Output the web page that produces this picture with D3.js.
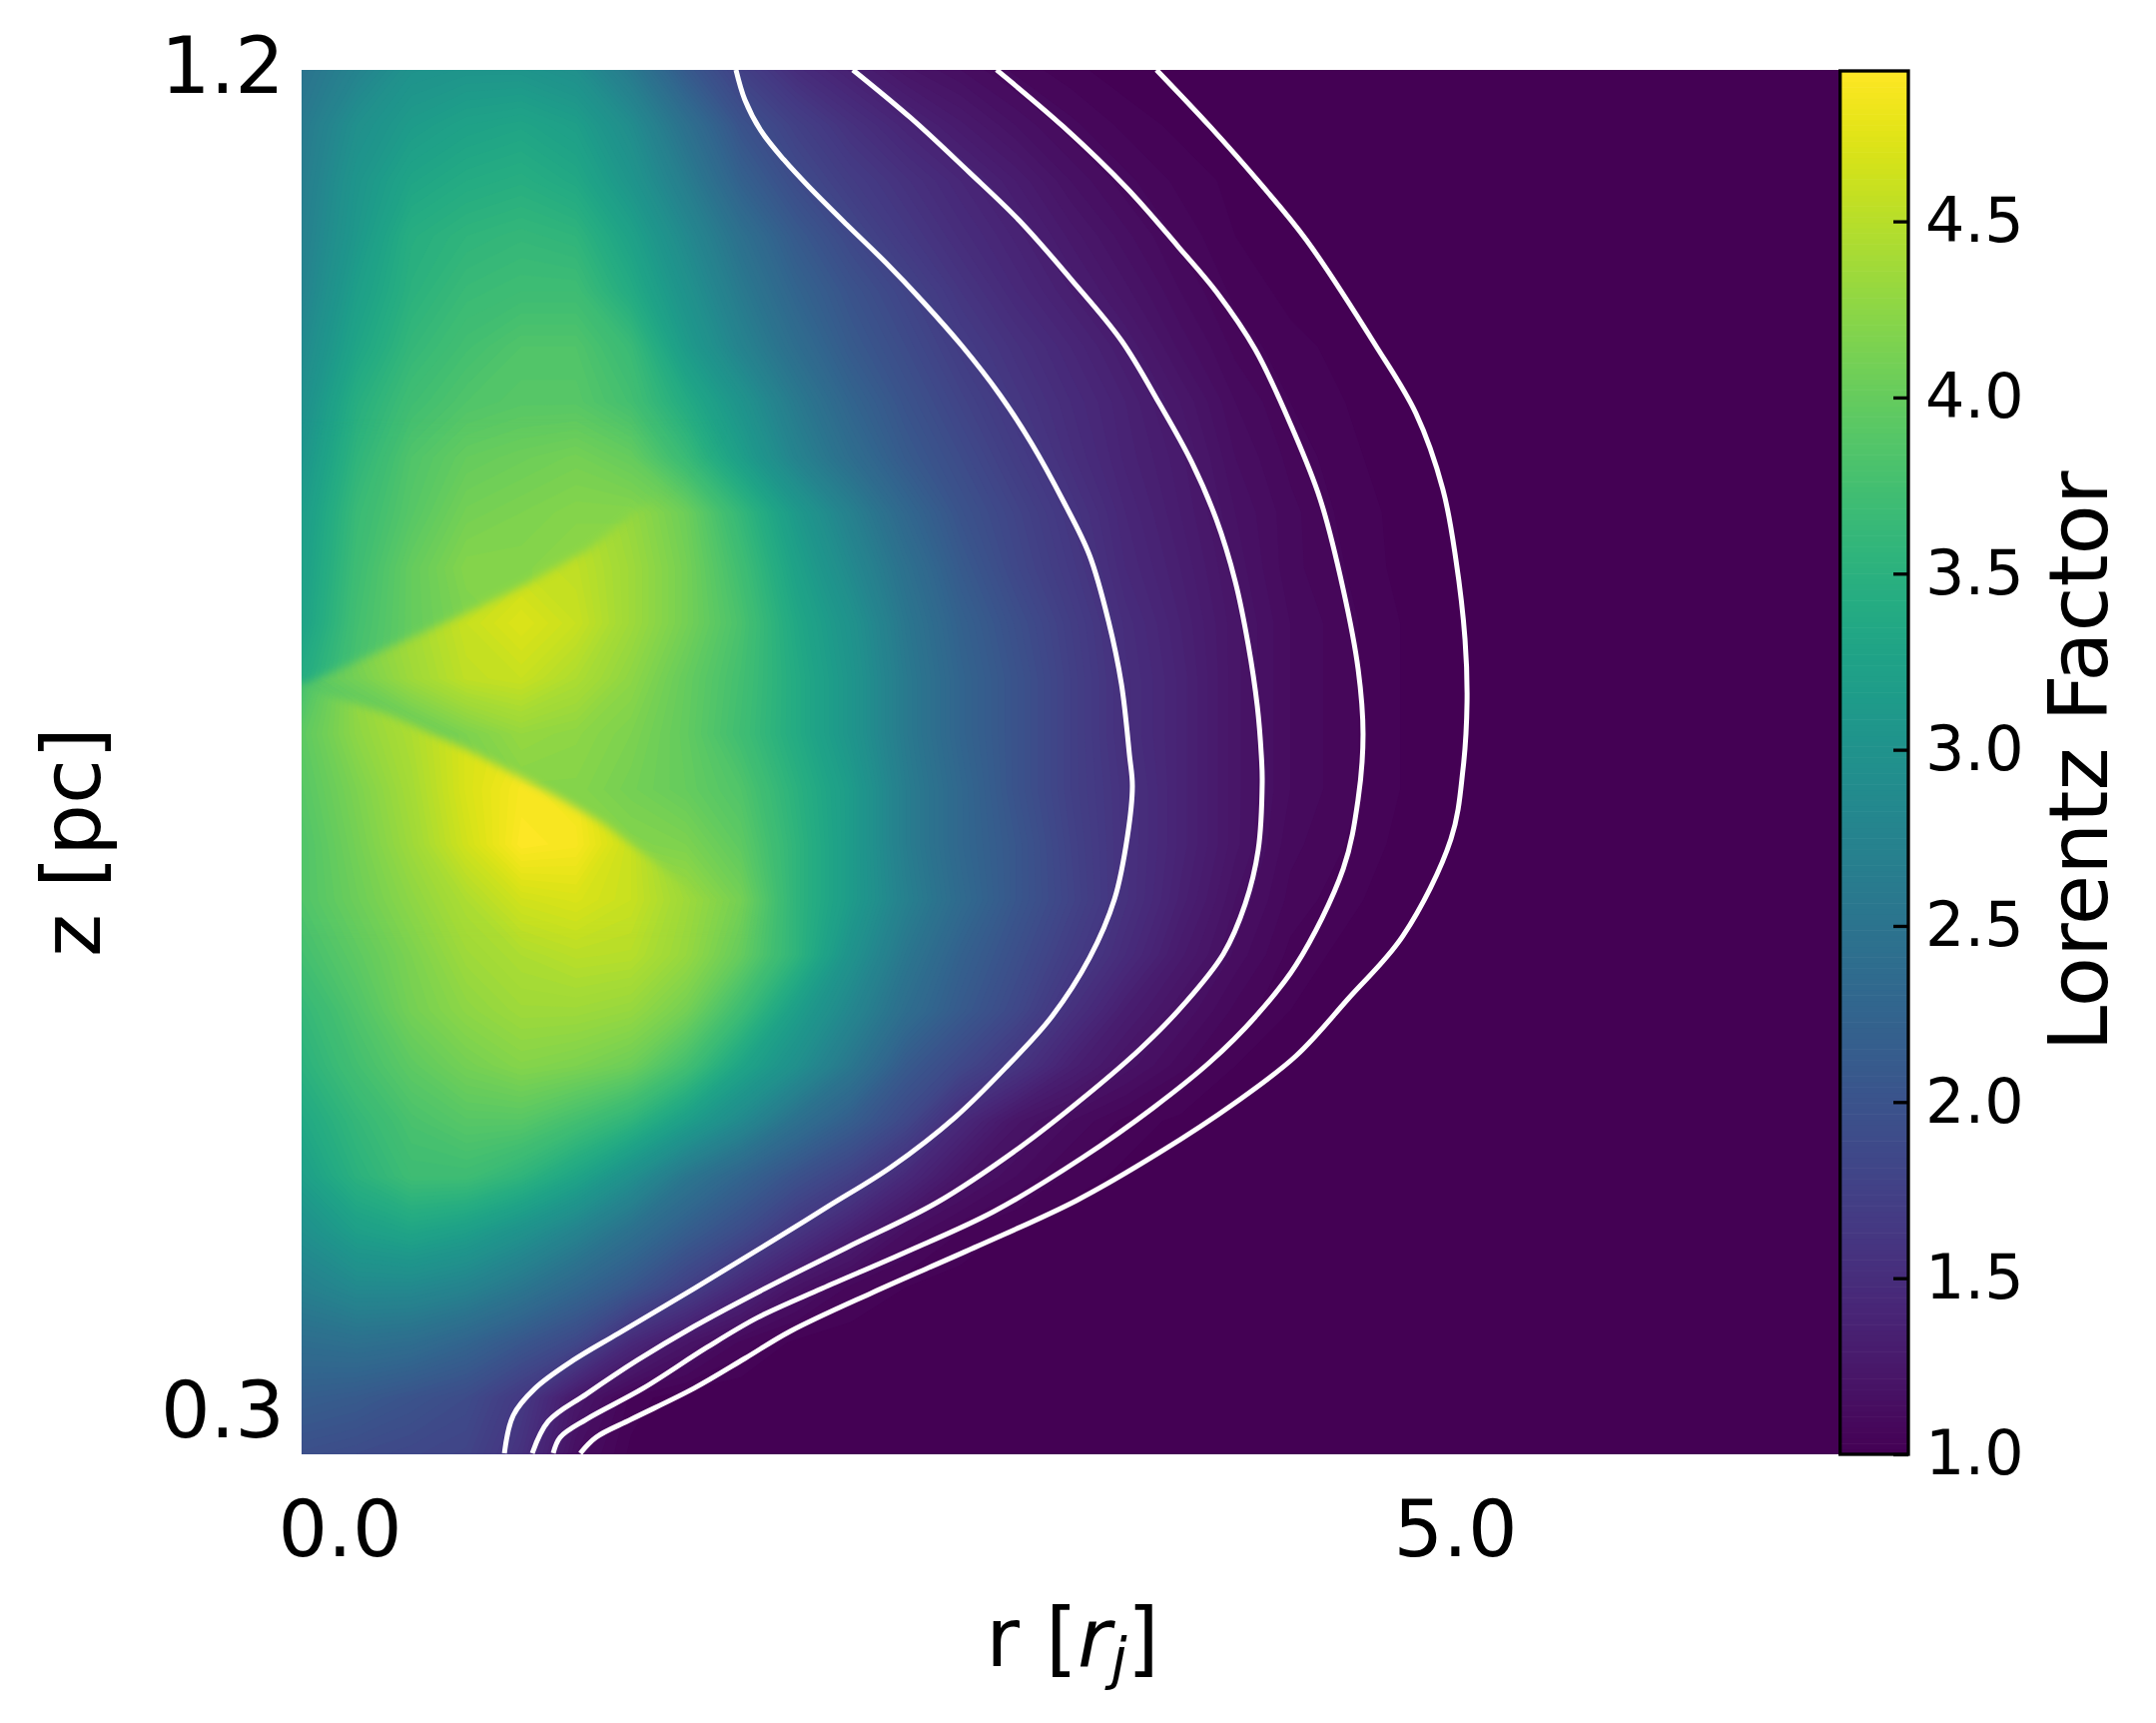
<!DOCTYPE html>
<html><head><meta charset="utf-8">
<style>html,body{margin:0;background:#fff}svg{display:block}text{font-family:"DejaVu Sans",sans-serif;fill:#000}</style>
<script src="https://cdnjs.cloudflare.com/ajax/libs/d3/7.8.5/d3.min.js"></script>
</head><body><svg id="c" width="2159" height="1725"></svg>
<script>
// Lorentz factor: rows top to bottom, columns left to right
const lorentzGrid = [
[2.5,2.75,3.0,3.05,3.05,2.95,2.6,2.1,1.75,1.5,1.35,1.22,1.15,1.08,1.04,1.01,1,1,1,1,1,1,1,1,1,1,1,1,1],
[2.6,2.95,3.15,3.25,3.3,3.2,2.9,2.45,2.0,1.75,1.55,1.4,1.28,1.18,1.1,1.05,1.02,1.01,1,1,1,1,1,1,1,1,1,1,1],
[2.65,3.05,3.3,3.4,3.45,3.35,3.05,2.65,2.2,1.9,1.7,1.55,1.42,1.3,1.18,1.1,1.05,1.02,1,1,1,1,1,1,1,1,1,1,1],
[2.7,3.1,3.45,3.55,3.6,3.55,3.25,2.85,2.45,2.1,1.85,1.65,1.5,1.38,1.26,1.16,1.08,1.03,1.01,1,1,1,1,1,1,1,1,1,1],
[2.75,3.2,3.5,3.65,3.7,3.7,3.4,3.0,2.6,2.25,2.0,1.8,1.6,1.45,1.33,1.22,1.12,1.05,1.02,1.01,1,1,1,1,1,1,1,1,1],
[2.85,3.3,3.6,3.75,3.85,3.85,3.65,3.15,2.75,2.4,2.1,1.9,1.7,1.55,1.42,1.3,1.17,1.08,1.04,1.02,1,1,1,1,1,1,1,1,1],
[2.95,3.45,3.72,3.85,3.9,3.9,3.75,3.4,3.02,2.6,2.25,2.0,1.8,1.62,1.48,1.36,1.24,1.12,1.06,1.03,1.01,1,1,1,1,1,1,1,1],
[3.05,3.55,3.85,4.0,4.05,4.1,4.0,3.65,3.2,2.75,2.4,2.1,1.9,1.7,1.52,1.38,1.28,1.15,1.08,1.04,1.01,1,1,1,1,1,1,1,1],
[3.9,4.2,4.35,4.45,4.55,4.5,4.3,4.05,3.6,3.12,2.7,2.3,2.0,1.8,1.6,1.42,1.3,1.18,1.1,1.05,1.02,1,1,1,1,1,1,1,1],
[3.6,4.0,4.2,4.4,4.6,4.55,4.35,4.1,3.72,3.25,2.85,2.45,2.1,1.85,1.65,1.45,1.33,1.2,1.1,1.06,1.02,1,1,1,1,1,1,1,1],
[3.8,4.2,4.4,4.6,4.72,4.6,4.35,4.1,3.8,3.35,3.0,2.55,2.2,1.95,1.72,1.5,1.36,1.22,1.12,1.07,1.03,1.01,1,1,1,1,1,1,1],
[3.9,4.1,4.35,4.55,4.6,4.45,4.25,4.0,3.75,3.4,3.05,2.6,2.25,2.0,1.75,1.52,1.38,1.22,1.12,1.07,1.03,1.01,1,1,1,1,1,1,1],
[3.8,3.8,3.95,4.15,4.3,4.25,4.15,3.98,3.72,3.4,3.05,2.6,2.25,2.0,1.75,1.52,1.38,1.22,1.12,1.07,1.03,1.01,1,1,1,1,1,1,1],
[3.9,3.95,4.0,4.1,4.2,4.2,4.1,4.0,3.85,3.5,3.15,2.65,2.3,2.0,1.75,1.55,1.38,1.22,1.12,1.07,1.03,1.01,1,1,1,1,1,1,1],
[4.0,4.0,4.05,4.1,4.15,4.2,4.2,4.15,3.95,3.55,3.15,2.65,2.3,2.05,1.78,1.55,1.38,1.22,1.1,1.06,1.02,1.01,1,1,1,1,1,1,1],
[3.85,4.05,4.25,4.45,4.65,4.7,4.6,4.35,4.1,3.55,3.15,2.7,2.35,2.05,1.8,1.55,1.35,1.18,1.08,1.04,1.01,1,1,1,1,1,1,1,1],
[3.75,3.95,4.15,4.35,4.45,4.52,4.5,4.3,4.0,3.55,3.0,2.55,2.2,1.95,1.7,1.48,1.28,1.14,1.05,1.02,1.01,1,1,1,1,1,1,1,1],
[3.6,3.85,4.1,4.25,4.35,4.35,4.3,4.1,3.7,3.2,2.8,2.4,2.1,1.85,1.55,1.32,1.18,1.08,1.03,1.01,1,1,1,1,1,1,1,1,1],
[3.5,3.75,3.95,4.1,4.2,4.15,4.05,3.75,3.3,2.95,2.55,2.1,1.85,1.6,1.35,1.2,1.1,1.03,1.01,1,1,1,1,1,1,1,1,1,1],
[3.35,3.6,3.8,3.9,3.9,3.75,3.55,3.2,2.85,2.45,2.15,1.85,1.45,1.22,1.12,1.05,1.02,1,1,1,1,1,1,1,1,1,1,1,1],
[3.2,3.5,3.7,3.7,3.55,3.3,2.95,2.55,2.25,1.98,1.75,1.45,1.22,1.12,1.05,1.02,1,1,1,1,1,1,1,1,1,1,1,1,1],
[2.95,3.2,3.3,3.2,3.0,2.75,2.45,2.15,1.9,1.6,1.35,1.15,1.06,1.02,1,1,1,1,1,1,1,1,1,1,1,1,1,1,1],
[2.7,2.85,2.85,2.75,2.55,2.3,2.05,1.75,1.45,1.2,1.08,1.03,1.01,1,1,1,1,1,1,1,1,1,1,1,1,1,1,1,1],
[2.4,2.45,2.4,2.25,2.05,1.85,1.45,1.22,1.08,1.02,1,1,1,1,1,1,1,1,1,1,1,1,1,1,1,1,1,1,1],
[2.15,2.1,2.0,1.9,1.65,1.25,1.05,1,1,1,1,1,1,1,1,1,1,1,1,1,1,1,1,1,1,1,1,1,1],
[1.95,1.9,1.85,1.8,1.55,1.15,1.02,1,1,1,1,1,1,1,1,1,1,1,1,1,1,1,1,1,1,1,1,1,1]
];
// values on the far side of the two shocks, same lattice, rows 6..12 and 11..16, columns 0..9
const aboveShockGrid = [
[2.95,3.45,3.72,3.85,3.9,3.9,3.75,3.4,3.02,2.6],
[3.05,3.55,3.85,4.0,4.05,4.1,4.0,3.65,3.2,2.75],
[3.15,3.65,3.9,4.1,4.15,4.2,4.2,4.05,3.6,3.12],
[3.2,3.7,4.0,4.2,4.2,4.25,4.25,4.1,3.72,3.25],
[3.25,3.75,4.0,4.15,4.2,4.25,4.25,4.1,3.8,3.35],
[3.4,3.8,4.0,4.1,4.2,4.2,4.2,4.0,3.75,3.4],
[3.5,3.85,4.0,4.1,4.2,4.2,4.15,3.98,3.72,3.4]
];
const belowShockGrid = [
[3.75,4.3,4.6,4.9,4.9,4.7,4.35,4.1,3.8,3.4],
[3.95,4.25,4.45,4.7,4.8,4.75,4.45,4.05,3.72,3.4],
[3.9,4.15,4.4,4.7,4.88,4.85,4.5,4.1,3.85,3.5],
[3.85,4.1,4.35,4.65,4.92,4.88,4.6,4.2,3.95,3.55],
[3.85,4.05,4.25,4.45,4.65,4.7,4.6,4.35,4.1,3.55],
[3.75,3.95,4.15,4.35,4.45,4.52,4.5,4.3,4.0,3.55]
];
// shock fronts [r, z]
const shockUpper = [[-.201,.7841],[-.031,.7955],[.358,.8209],[.671,.8423],[.819,.853],[1.119,.8777],[1.343,.9045],[1.522,.9265],[1.701,.958],[1.8,.958],[-.201,.958]];
const shockLower = [[-.201,.7881],[.224,.7674],[.595,.742],[.971,.7126],[1.186,.6938],[1.419,.6678],[1.589,.6464],[1.88,.6236],[-.201,.6236]];
// white contours [r, z]
const contour1 = [[1.777,1.1987],[1.817,1.1786],[1.889,1.1579],[1.992,1.1385],[2.104,1.1204],[2.274,1.095],[2.449,1.0696],[2.619,1.0429],[2.789,1.0141],[2.959,.9814],[3.102,.9486],[3.245,.9098],[3.362,.8737],[3.447,.8296],[3.505,.7875],[3.541,.74],[3.554,.7193],[3.532,.6858],[3.474,.6437],[3.362,.6043],[3.192,.5648],[2.99,.5314],[2.762,.4979],[2.475,.4645],[2.189,.4378],[1.907,.4117],[1.589,.3829],[1.249,.3528],[1.047,.3348],[.877,.3161],[.779,.298],[.739,.2726]];
const contour2 = [[2.301,1.1987],[2.56,1.1666],[2.82,1.1305],[3.048,1.0977],[3.277,1.0589],[3.505,1.0175],[3.675,.9753],[3.818,.9366],[3.93,.8978],[4.015,.8563],[4.073,.8142],[4.114,.7727],[4.132,.74],[4.136,.7219],[4.118,.6765],[4.06,.6404],[3.962,.6069],[3.787,.5735],[3.59,.5434],[3.33,.51],[3.048,.4772],[2.677,.4404],[2.274,.4104],[1.907,.3829],[1.589,.3575],[1.334,.3348],[1.106,.3121],[.936,.294],[.864,.2726]];
const contour3 = [[2.945,1.1987],[3.245,1.1606],[3.532,1.1191],[3.76,1.0803],[3.93,1.0502],[4.105,1.0114],[4.275,.9573],[4.396,.9112],[4.499,.851],[4.566,.7975],[4.588,.754],[4.566,.7106],[4.499,.6638],[4.288,.5996],[4.105,.5648],[3.903,.5347],[3.648,.504],[3.33,.4705],[2.932,.4344],[2.534,.407],[2.162,.3829],[1.876,.3636],[1.647,.3435],[1.361,.3161],[1.106,.2953],[.989,.2833],[.958,.2726]];
const contour4 = [[3.662,1.1987],[3.903,1.1606],[4.132,1.1218],[4.333,1.085],[4.642,1.0148],[4.825,.9687],[4.946,.9178],[5.004,.871],[5.045,.8175],[5.054,.7754],[5.036,.7306],[4.982,.6838],[4.767,.619],[4.521,.5768],[4.288,.5387],[4.015,.5073],[3.675,.4739],[3.303,.4418],[2.847,.4104],[2.39,.3803],[2.019,.3542],[1.817,.3361],[1.589,.3161],[1.307,.2953],[1.15,.2833],[1.079,.2726]];
const rTicks = [0, 5];
const zTicks = [1.2, 0.3];
const cbTicks = [1.0,1.5,2.0,2.5,3.0,3.5,4.0,4.5];
const rExtent = [-0.17, 6.724], zExtent = [1.1987, 0.2726], valueExtent = [1, 4.927];

const svg = d3.select('#c');
const x = d3.scaleLinear().domain([0,5]).range([340,1457]);
const y = d3.scaleLinear().domain([1.2,0.3]).range([68,1414]);
const L = 302, R = 1842, T = 70, B = 1456;
const color = v => d3.interpolateViridis((v - valueExtent[0]) / (valueExtent[1] - valueExtent[0]));
const defs = svg.append('defs');
defs.append('clipPath').attr('id','plot').append('rect').attr('x',L).attr('y',T).attr('width',R-L).attr('height',B-T);
defs.append('filter').attr('id','soft').attr('x','-20%').attr('y','-20%').attr('width','140%').attr('height','140%')
  .append('feGaussianBlur').attr('stdDeviation',5);

const gridR = d3.scaleLinear().domain([0,28]).range(rExtent);
const gridZ = d3.scaleLinear().domain([0,25]).range(zExtent);
const levels = d3.range(valueExtent[0], 4.95, 0.03);
function drawField(parent, grid, row0){
  const n = grid[0].length, m = grid.length;
  const gen = d3.contours().size([n,m]).thresholds(levels);
  const proj = d3.geoTransform({point(px,py){
    this.stream.point(x(gridR(px-0.5)), y(gridZ(py-0.5+row0)));
  }});
  const path = d3.geoPath(proj);
  parent.selectAll('path').data(gen(grid.flat())).join('path')
    .attr('d', path).attr('fill', d => color(d.value + 0.015));
}
const plot = svg.append('g').attr('clip-path','url(#plot)');
plot.append('rect').attr('x',L).attr('y',T).attr('width',R-L).attr('height',B-T).attr('fill',color(1));
drawField(plot.append('g'), lorentzGrid, 0);

const polyLine = d3.line().x(d=>x(d[0])).y(d=>y(d[1]));
function addMask(id, pts){
  defs.append('mask').attr('id',id).attr('maskUnits','userSpaceOnUse')
    .attr('x',0).attr('y',0).attr('width',2159).attr('height',1725)
    .append('path').attr('d',polyLine(pts)+'Z').attr('fill','#fff').attr('filter','url(#soft)');
}
addMask('mUpper', shockUpper);
addMask('mLower', shockLower);
drawField(plot.append('g').attr('mask','url(#mUpper)'), aboveShockGrid, 6);
drawField(plot.append('g').attr('mask','url(#mLower)'), belowShockGrid, 11);

const curve = d3.line().x(d=>x(d[0])).y(d=>y(d[1])).curve(d3.curveCatmullRom.alpha(0.5));
plot.selectAll('path.contour').data([contour1,contour2,contour3,contour4]).join('path')
  .attr('class','contour').attr('d',curve).attr('fill','none').attr('stroke','#fff').attr('stroke-width',5);

// colour bar
const cbL = 1842.7, cbR = 1911, cbT = 71, cbB = 1456;
const cb = d3.scaleLinear().domain(valueExtent).range([cbB,cbT]);
const steps = d3.range(256).map(i => valueExtent[0] + (valueExtent[1]-valueExtent[0])*i/256);
const stepH = (valueExtent[1]-valueExtent[0])/256;
svg.append('g').selectAll('rect').data(steps).join('rect')
  .attr('x',cbL).attr('width',cbR-cbL)
  .attr('y',d=>cb(d+stepH)).attr('height',d=>cb(d)-cb(d+stepH)+0.6)
  .attr('fill',d=>color(d+stepH/2));
svg.append('rect').attr('x',cbL).attr('y',cbT).attr('width',cbR-cbL).attr('height',cbB-cbT)
  .attr('fill','none').attr('stroke','#000').attr('stroke-width',3.3);
const cbAxis = svg.append('g').attr('transform',`translate(${cbR},0)`)
  .call(d3.axisRight(cb).tickValues(cbTicks).tickSize(-15).tickPadding(17).tickFormat(d3.format('.1f')));
cbAxis.select('.domain').remove();
cbAxis.selectAll('line').attr('stroke','#000').attr('stroke-width',3.3);
cbAxis.selectAll('text').attr('font-size',62).attr('font-family','"DejaVu Sans"').attr('fill','#000');

// axes: labels only
const xAxis = svg.append('g').attr('transform',`translate(0,${B})`)
  .call(d3.axisBottom(x).tickValues(rTicks).tickSize(0).tickPadding(47).tickFormat(d3.format('.1f')));
const yAxis = svg.append('g').attr('transform',`translate(${L},0)`)
  .call(d3.axisLeft(y).tickValues(zTicks).tickSize(0).tickPadding(17).tickFormat(d3.format('.1f')));
[xAxis,yAxis].forEach(a=>{a.select('.domain').remove();
  a.selectAll('text').attr('font-size',78).attr('font-family','"DejaVu Sans"').attr('fill','#000');});

const xl = svg.append('text').attr('x',1074).attr('y',1668).attr('text-anchor','middle').attr('font-size',82);
xl.append('tspan').text('r [');
xl.append('tspan').attr('font-style','italic').text('r');
xl.append('tspan').attr('font-style','italic').attr('font-size',57).attr('dy',12).text('j');
xl.append('tspan').attr('dy',-12).text(']');
svg.append('text').attr('transform','translate(100,843) rotate(-90)').attr('text-anchor','middle').attr('font-size',82).text('z [pc]');
svg.append('text').attr('transform','translate(2110,762) rotate(-90)').attr('text-anchor','middle').attr('font-size',82).text('Lorentz Factor');
</script></body></html>
